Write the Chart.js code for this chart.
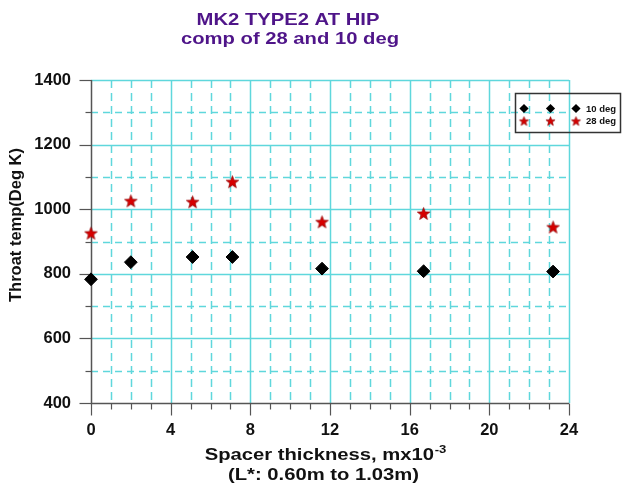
<!DOCTYPE html>
<html><head><meta charset="utf-8">
<script src="https://cdn.jsdelivr.net/npm/chart.js@4.4.1/dist/chart.umd.min.js"></script>
<style>html,body{margin:0;padding:0;background:#fff}#wrap{width:622px;height:490px;position:relative}</style>
</head><body><div id="wrap"><canvas id="c" width="622" height="490"></canvas></div>
<script>
// ---- data ----
const spacerThickness = [0, 2, 5.1, 7.1, 11.6, 16.7, 23.2];
const temp10deg = [783, 836, 852, 852, 816, 808, 807];
const temp28deg = [926, 1026, 1023, 1085, 961, 987, 945];
const seriesNames = ['10 deg', '28 deg'];
const xMajorTicks = [0, 4, 8, 12, 16, 20, 24];
const yMajorTicks = [400, 600, 800, 1000, 1200, 1400];
const chartTitle = ['MK2 TYPE2 AT HIP', 'comp of 28 and 10 deg'];
const yTitle = 'Throat temp(Deg K)';
const xTitleMain = 'Spacer thickness, mx10';
const xTitleSup = '-3';
const xTitle2 = '(L*: 0.60m to 1.03m)';

const FONT = "'Liberation Sans', Arial, sans-serif";
const CYAN = '#5fd7dc';
const AXIS = '#555555';
const PURPLE = '#4f1589';
const SX = 1.19; // horizontal stretch of the titles in the reference

function makeStar(R) {
  const s = Math.ceil(R * 2 + 3);
  const cv = document.createElement('canvas');
  cv.width = s; cv.height = s;
  const g = cv.getContext('2d');
  const cx = s / 2, cy = s / 2 + R * 0.1, r = R * 0.42;
  g.beginPath();
  for (let i = 0; i < 10; i++) {
    const a = -Math.PI / 2 + i * Math.PI / 5;
    const rr = i % 2 === 0 ? R : r;
    const px = cx + rr * Math.cos(a), py = cy + rr * Math.sin(a);
    i === 0 ? g.moveTo(px, py) : g.lineTo(px, py);
  }
  g.closePath();
  g.fillStyle = '#d60000';
  g.fill();
  g.lineWidth = 0.7;
  g.strokeStyle = '#900000';
  g.stroke();
  return cv;
}
const starBig = makeStar(6.6);
const starSmall = makeStar(4.8);

const pts = (xs, ys) => xs.map((x, i) => ({x, y: ys[i]}));

const gridPlugin = {
  id: 'gridAxes',
  beforeDatasetsDraw(chart) {
    const {ctx, chartArea: a, scales: {x, y}} = chart;
    ctx.save();
    ctx.lineWidth = 1.5;
    ctx.strokeStyle = CYAN;
    ctx.setLineDash([8, 5]);
    for (let v = 1; v < 24; v++) {
      if (v % 4 === 0) continue;
      const px = Math.round(x.getPixelForValue(v)) + 0.5;
      ctx.beginPath(); ctx.moveTo(px, a.top); ctx.lineTo(px, a.bottom); ctx.stroke();
    }
    ctx.setLineDash([7, 5]);
    for (let v = 500; v < 1400; v += 200) {
      const py = Math.round(y.getPixelForValue(v)) + 0.5;
      ctx.beginPath(); ctx.moveTo(a.left, py); ctx.lineTo(a.right, py); ctx.stroke();
    }
    ctx.setLineDash([]);
    xMajorTicks.forEach(v => {
      if (v === 0) return;
      const px = Math.round(x.getPixelForValue(v)) + 0.5;
      ctx.beginPath(); ctx.moveTo(px, a.top); ctx.lineTo(px, a.bottom); ctx.stroke();
    });
    yMajorTicks.forEach(v => {
      if (v === 400) return;
      const py = Math.round(y.getPixelForValue(v)) + 0.5;
      ctx.beginPath(); ctx.moveTo(a.left, py); ctx.lineTo(a.right, py); ctx.stroke();
    });
    ctx.strokeStyle = AXIS;
    ctx.lineWidth = 1.5;
    const x0 = Math.round(x.getPixelForValue(0)) + 0.5;
    const y0 = Math.round(y.getPixelForValue(400)) + 0.5;
    ctx.beginPath(); ctx.moveTo(x0, a.top); ctx.lineTo(x0, y0); ctx.lineTo(a.right, y0); ctx.stroke();
    ctx.lineWidth = 1.2;
    for (let v = 0; v <= 24; v++) {
      const px = Math.round(x.getPixelForValue(v)) + 0.5;
      const len = v % 4 === 0 ? 12 : 6;
      ctx.beginPath(); ctx.moveTo(px, y0); ctx.lineTo(px, y0 + len); ctx.stroke();
    }
    for (let v = 400; v <= 1400; v += 100) {
      const py = Math.round(y.getPixelForValue(v)) + 0.5;
      const len = v % 200 === 0 ? 12 : 6;
      ctx.beginPath(); ctx.moveTo(x0, py); ctx.lineTo(x0 - len, py); ctx.stroke();
    }
    ctx.restore();
  }
};

function stretched(ctx, text, cx, by) {
  ctx.save();
  ctx.translate(cx, by);
  ctx.scale(SX, 1);
  ctx.textAlign = 'center';
  ctx.fillText(text, 0, 0);
  ctx.restore();
}

const textPlugin = {
  id: 'texts',
  afterDraw(chart) {
    const ctx = chart.ctx;
    ctx.save();
    ctx.textBaseline = 'alphabetic';
    // title
    ctx.fillStyle = PURPLE;
    ctx.font = 'bold 17px ' + FONT;
    stretched(ctx, chartTitle[0], 288, 25);
    stretched(ctx, chartTitle[1], 290, 43.5);
    // y title
    ctx.fillStyle = '#111';
    ctx.font = 'bold 16.5px ' + FONT;
    ctx.save();
    ctx.translate(20.5, 225);
    ctx.rotate(-Math.PI / 2);
    ctx.textAlign = 'center';
    ctx.fillText(yTitle, 0, 0);
    ctx.restore();
    // x title
    ctx.font = 'bold 17px ' + FONT;
    const wMain = ctx.measureText(xTitleMain).width;
    ctx.font = 'bold 11px ' + FONT;
    const wSup = ctx.measureText(xTitleSup).width;
    const total = (wMain + wSup + 0.5) * SX;
    ctx.save();
    ctx.translate(325.5 - total / 2, 460);
    ctx.scale(SX, 1);
    ctx.textAlign = 'left';
    ctx.font = 'bold 17px ' + FONT;
    ctx.fillText(xTitleMain, 0, 0);
    ctx.font = 'bold 11px ' + FONT;
    ctx.fillText(xTitleSup, wMain + 0.5, -7);
    ctx.restore();
    ctx.font = 'bold 17px ' + FONT;
    stretched(ctx, xTitle2, 323.5, 479.5);
    // legend
    ctx.strokeStyle = '#333';
    ctx.lineWidth = 1.5;
    ctx.strokeRect(515.5, 93.5, 105, 39);
    const xs = [524, 550.5, 576];
    xs.forEach(px => {
      const py = 108.5, r = 4.6;
      ctx.beginPath();
      ctx.moveTo(px, py - r); ctx.lineTo(px + r, py); ctx.lineTo(px, py + r); ctx.lineTo(px - r, py);
      ctx.closePath(); ctx.fillStyle = '#000'; ctx.fill();
      ctx.drawImage(starSmall, px - starSmall.width / 2, 121 - starSmall.height / 2);
    });
    ctx.fillStyle = '#111';
    ctx.font = 'bold 9.5px ' + FONT;
    ctx.textAlign = 'left';
    ctx.textBaseline = 'middle';
    ctx.fillText(seriesNames[0], 586, 109);
    ctx.fillText(seriesNames[1], 586, 121.5);
    ctx.restore();
  }
};

new Chart(document.getElementById('c'), {
  type: 'scatter',
  data: {
    datasets: [
      {label: seriesNames[1], data: pts(spacerThickness, temp28deg), pointStyle: starBig,
       backgroundColor: '#d60000', borderColor: '#900000', clip: false},
      {label: seriesNames[0], data: pts(spacerThickness, temp10deg), pointStyle: 'rectRot',
       pointRadius: 6.4, backgroundColor: '#000', borderColor: '#000', borderWidth: 1, clip: false}
    ]
  },
  options: {
    responsive: false,
    animation: false,
    devicePixelRatio: 1,
    layout: {padding: {left: 0, top: 80, right: 53, bottom: 0}},
    plugins: {legend: {display: false}, tooltip: {enabled: false}, title: {display: false}},
    scales: {
      x: {
        type: 'linear', min: 0, max: 24,
        afterFit(s) { s.height = 87; },
        grid: {display: false, drawTicks: false},
        border: {display: false},
        ticks: {
          stepSize: 1, autoSkip: false, maxRotation: 0, padding: 18,
          color: '#111', font: {family: FONT, size: 16.5, weight: 'bold'},
          callback: v => xMajorTicks.includes(v) ? String(v) : ''
        }
      },
      y: {
        type: 'linear', min: 400, max: 1400,
        afterFit(s) { s.width = 91; },
        grid: {display: false, drawTicks: false},
        border: {display: false},
        ticks: {
          stepSize: 100, autoSkip: false, padding: 20,
          color: '#111', font: {family: FONT, size: 16.5, weight: 'bold'},
          callback: v => yMajorTicks.includes(v) ? String(v) : ''
        }
      }
    }
  },
  plugins: [gridPlugin, textPlugin]
});
</script>
</body></html>
